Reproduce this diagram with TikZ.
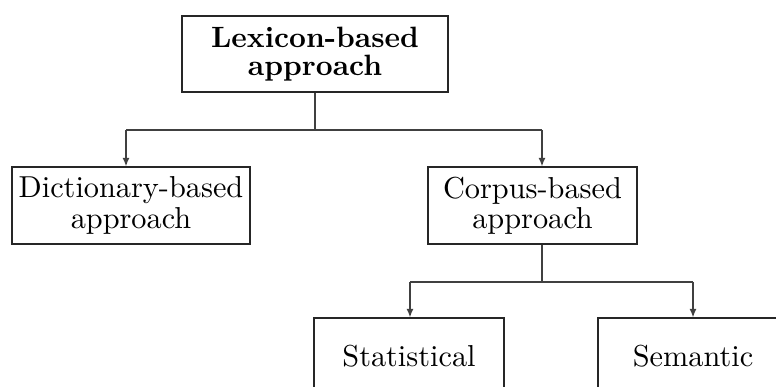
\documentclass[tikz,border=0pt]{standalone}
\usetikzlibrary{arrows.meta}
\begin{document}
\begin{tikzpicture}[x=0.33pt,y=-0.33pt,
  box/.style={draw=black!85, line width=0.4pt, align=center, inner sep=0pt,
    font=\fontsize{10}{10}\selectfont},
  link/.style={draw=black!75, line width=0.45pt},
  arr/.style={link, -{Latex[length=2.8pt,width=2.3pt]}}]
\clip (0,0) rectangle (776,387);
% boxes
\node[box, font=\fontsize{9.7}{9.4}\selectfont\bfseries, minimum width=87.8pt, minimum height=25.1pt] (lex) at (315,54) {Lexicon-based\\approach};
\node[box, minimum width=78.5pt, minimum height=25.4pt] (dict) at (131,205.5) {Dictionary-based\\approach};
\node[box, minimum width=69pt, minimum height=25.4pt] (corp) at (532.5,205.5) {Corpus-based\\approach};
\node[box, minimum width=62.7pt, minimum height=25.4pt] (stat) at (409,356.5) {Statistical};
\node[box, minimum width=62.7pt, minimum height=25.4pt] (sem) at (693,356.5) {Semantic};
% branch points
\coordinate (t0) at (315,130);
\coordinate (tl) at (126,130);
\coordinate (tr) at (542,130);
\coordinate (c0) at (542,282);
\coordinate (cl) at (410,282);
\coordinate (cr) at (693,282);
% connectors
\draw[link] (lex.south) -- (t0);
\draw[link] (tl) -- (tr);
\draw[arr] (tl) -- (tl |- dict.north);
\draw[arr] (tr) -- (tr |- corp.north);
\draw[link] (c0 |- corp.south) -- (c0);
\draw[link] (cl) -- (cr);
\draw[arr] (cl) -- (cl |- stat.north);
\draw[arr] (cr) -- (cr |- sem.north);
\end{tikzpicture}
\end{document}
